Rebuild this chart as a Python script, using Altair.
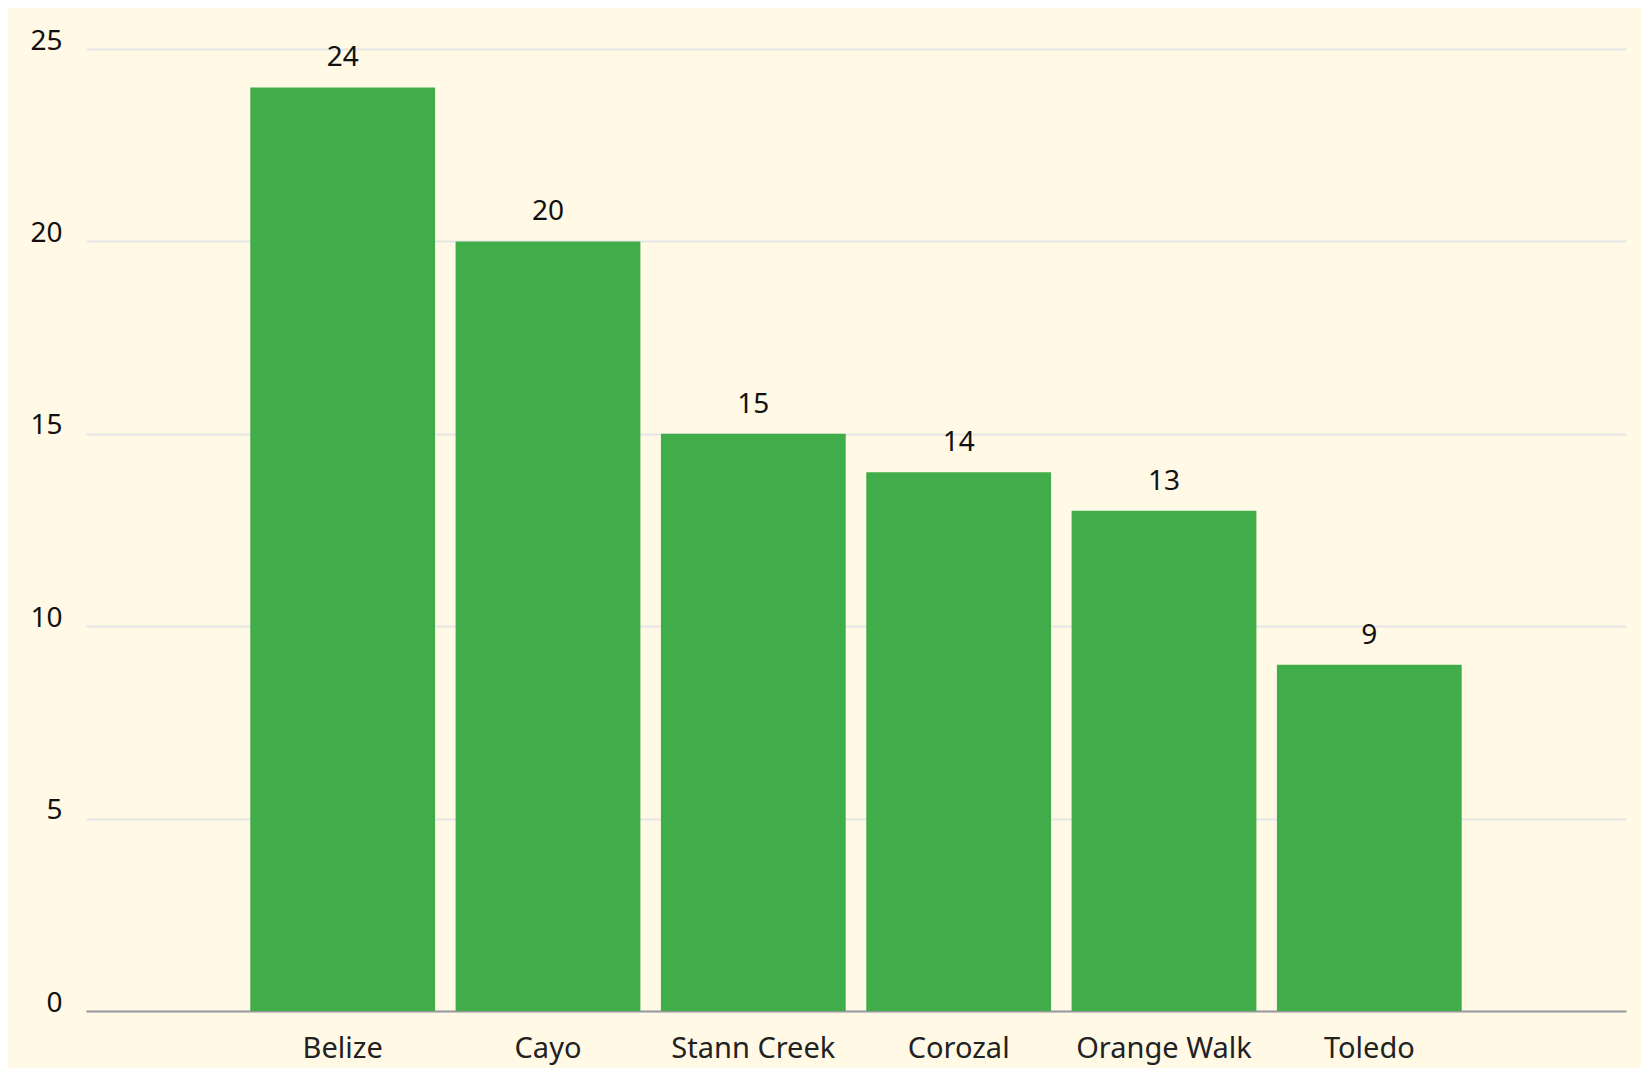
import altair as alt
import pandas as pd

districts = ["Belize", "Cayo", "Stann Creek", "Corozal", "Orange Walk", "Toledo"]
values = [24, 20, 15, 14, 13, 9]
y_ticks = [0, 5, 10, 15, 20, 25]

df = pd.DataFrame({"district": districts, "value": values})

FONT = "Noto Sans"
BG = "#FFF9E6"
BAR = "#41AD4A"

x = alt.X(
    "district:N",
    sort=districts,
    title=None,
    scale=alt.Scale(paddingInner=0.1, paddingOuter=0.8),
    axis=alt.Axis(
        labelAngle=0,
        labelFont=FONT,
        labelFontSize=29,
        labelColor="#222222",
        labelBaseline="alphabetic",
        labelPadding=46,
        labelLimit=0,
        ticks=False,
        domain=True,
        domainColor="#999999",
        domainWidth=2,
        grid=False,
    ),
)
y = alt.Y(
    "value:Q",
    title=None,
    scale=alt.Scale(domain=[0, 25], nice=False),
    axis=alt.Axis(
        values=y_ticks,
        labelFont=FONT,
        labelFontSize=28,
        labelColor="#111111",
        labelBaseline="alphabetic",
        labelPadding=24,
        ticks=False,
        domain=False,
        grid=True,
        gridColor="#E6E6E6",
        gridWidth=2,
    ),
)

bars = alt.Chart(df).mark_bar(color=BAR).encode(x=x, y=y)
labels = alt.Chart(df).mark_text(
    font=FONT, fontSize=28, color="#111111", baseline="alphabetic", dy=-21
).encode(x=alt.X("district:N", sort=districts), y="value:Q", text="value:Q")

chart = (
    alt.layer(bars, labels)
    .properties(
        width=1540,
        height=962,
        background=BG,
        padding={"left": 78, "top": 41, "right": 15, "bottom": 57},
        autosize=alt.AutoSizeParams(type="none"),
    )
    .configure_view(stroke=None)
)

chart.save("out.html", embed_options={"renderer": "svg", "actions": False})
